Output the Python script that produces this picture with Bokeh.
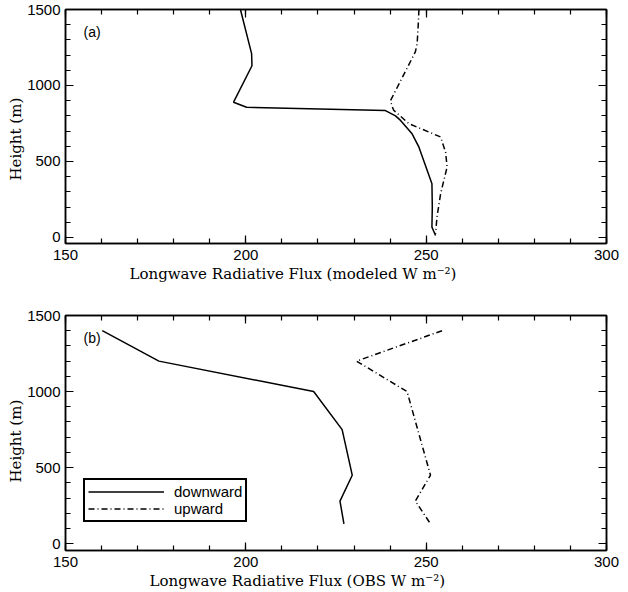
from bokeh.plotting import figure
from bokeh.layouts import column
from bokeh.models import (Range1d, FixedTicker, LinearAxis, Label, Legend, LegendItem,
                          CustomJSTickFormatter, Title)
from bokeh.embed import file_html
from bokeh.resources import INLINE

# ---- data ----
a_down_h = [1500, 1210, 1130, 890, 857, 835, 800, 770, 682, 594, 353, 200, 68, 13]
a_down_f = [198.5, 201.6, 201.7, 196.6, 200.2, 238.7, 241.5, 242.9, 246.1, 248.0, 251.6, 251.7, 251.6, 252.6]

a_up_h = [1500, 1400, 1275, 1221, 900, 860, 837, 749, 661, 560, 463, 287, 134, 24]
a_up_f = [248.0, 247.8, 247.5, 247.0, 240.1, 240.6, 241.0, 245.2, 254.0, 255.4, 255.8, 254.0, 253.0, 252.6]

b_down_h = [1400, 1200, 1000, 750, 450, 280, 130]
b_down_f = [160.2, 175.9, 218.8, 226.7, 229.5, 226.1, 227.2]

b_up_h = [1400, 1200, 1000, 450, 280, 130]
b_up_f = [254.4, 230.7, 244.7, 251.2, 247.0, 251.2]

x_major = [150, 200, 250, 300]
x_minor = list(range(150, 301, 10))
y_major = [0, 500, 1000, 1500]
y_minor = list(range(0, 1501, 100))

TICK_FONT = "Liberation Sans"
TITLE_FONT = "DejaVu Serif"


def style_axis(ax, major, minor, labels=True):
    ax.ticker = FixedTicker(ticks=major, minor_ticks=minor)
    ax.major_tick_in = 8
    ax.major_tick_out = 0
    ax.minor_tick_in = 5
    ax.minor_tick_out = 0
    ax.axis_line_color = "black"
    ax.axis_line_width = 1.5
    ax.major_tick_line_color = "black"
    ax.major_tick_line_width = 1.2
    ax.minor_tick_line_color = "black"
    ax.minor_tick_line_width = 1.2
    ax.major_label_text_font = TICK_FONT
    ax.major_label_text_font_size = "15px"
    ax.major_label_text_color = "black"
    if not labels:
        ax.formatter = CustomJSTickFormatter(code="return ''")
        ax.major_label_standoff = 0


def make_panel(xlabel, tag, frame_h, top, bottom, ymin, tag_y, xt_off, yt_off):
    p = figure(frame_width=541, frame_height=frame_h,
               x_range=Range1d(150, 300), y_range=Range1d(ymin, 1500),
               output_backend="svg", toolbar_location=None,
               min_border_left=65, min_border_right=22,
               min_border_top=top, min_border_bottom=bottom)
    p.grid.visible = False
    p.outline_line_color = "black"
    p.outline_line_width = 1.5
    p.background_fill_color = "white"
    p.border_fill_color = "white"

    style_axis(p.xaxis[0], x_major, x_minor)
    style_axis(p.yaxis[0], y_major, y_minor)
    p.xaxis[0].major_label_standoff = 6
    p.yaxis[0].major_label_standoff = 5

    top_ax = LinearAxis()
    style_axis(top_ax, x_major, x_minor, labels=False)
    right_ax = LinearAxis()
    style_axis(right_ax, y_major, y_minor, labels=False)
    p.add_layout(top_ax, "above")
    p.add_layout(right_ax, "right")

    # axis titles (placed like the original, slightly off-centre)
    p.add_layout(Title(text=xlabel, text_font=TITLE_FONT, text_font_size="15px",
                       text_font_style="normal", text_color="black",
                       align="left", offset=xt_off, standoff=0), "below")
    p.add_layout(Title(text="Height (m)", text_font=TITLE_FONT, text_font_size="15px",
                       text_font_style="normal", text_color="black",
                       align="left", offset=yt_off, standoff=0), "left")

    p.add_layout(Label(x=155, y=tag_y, text=tag,
                       text_font=TICK_FONT, text_font_size="14px",
                       text_baseline="middle", text_color="black"))
    return p


p1 = make_panel("Longwave Radiative Flux (modeled W m\u207b\u00b2)", "(a)", 234, 9, 57, -40,
                1350, 64, 63)
p1.line(a_down_f, a_down_h, line_color="black", line_width=1.5)
p1.line(a_up_f, a_up_h, line_color="black", line_width=1.5, line_dash="6 3 1 3")

p2 = make_panel("Longwave Radiative Flux (OBS W m\u207b\u00b2)", "(b)", 235, 15, 42, -45,
                1355, 84, 68)
r_down = p2.line(b_down_f, b_down_h, line_color="black", line_width=1.5)
r_up = p2.line(b_up_f, b_up_h, line_color="black", line_width=1.5, line_dash="6 3 1 3")

legend = Legend(items=[LegendItem(label="downward", renderers=[r_down]),
                       LegendItem(label="upward", renderers=[r_up])],
                location=(18, 28), orientation="vertical")
legend.padding = 3
legend.margin = 0
legend.spacing = 0
legend.glyph_width = 76
legend.glyph_height = 13
legend.label_height = 13
legend.label_standoff = 10
legend.label_text_font = TICK_FONT
legend.label_text_font_size = "15px"
legend.label_text_color = "black"
legend.border_line_color = "black"
legend.border_line_alpha = 1.0
legend.border_line_width = 2
legend.background_fill_alpha = 1.0
p2.add_layout(legend)

layout = column(p1, p2, spacing=0)
open("out.html", "w").write(file_html(layout, INLINE))
